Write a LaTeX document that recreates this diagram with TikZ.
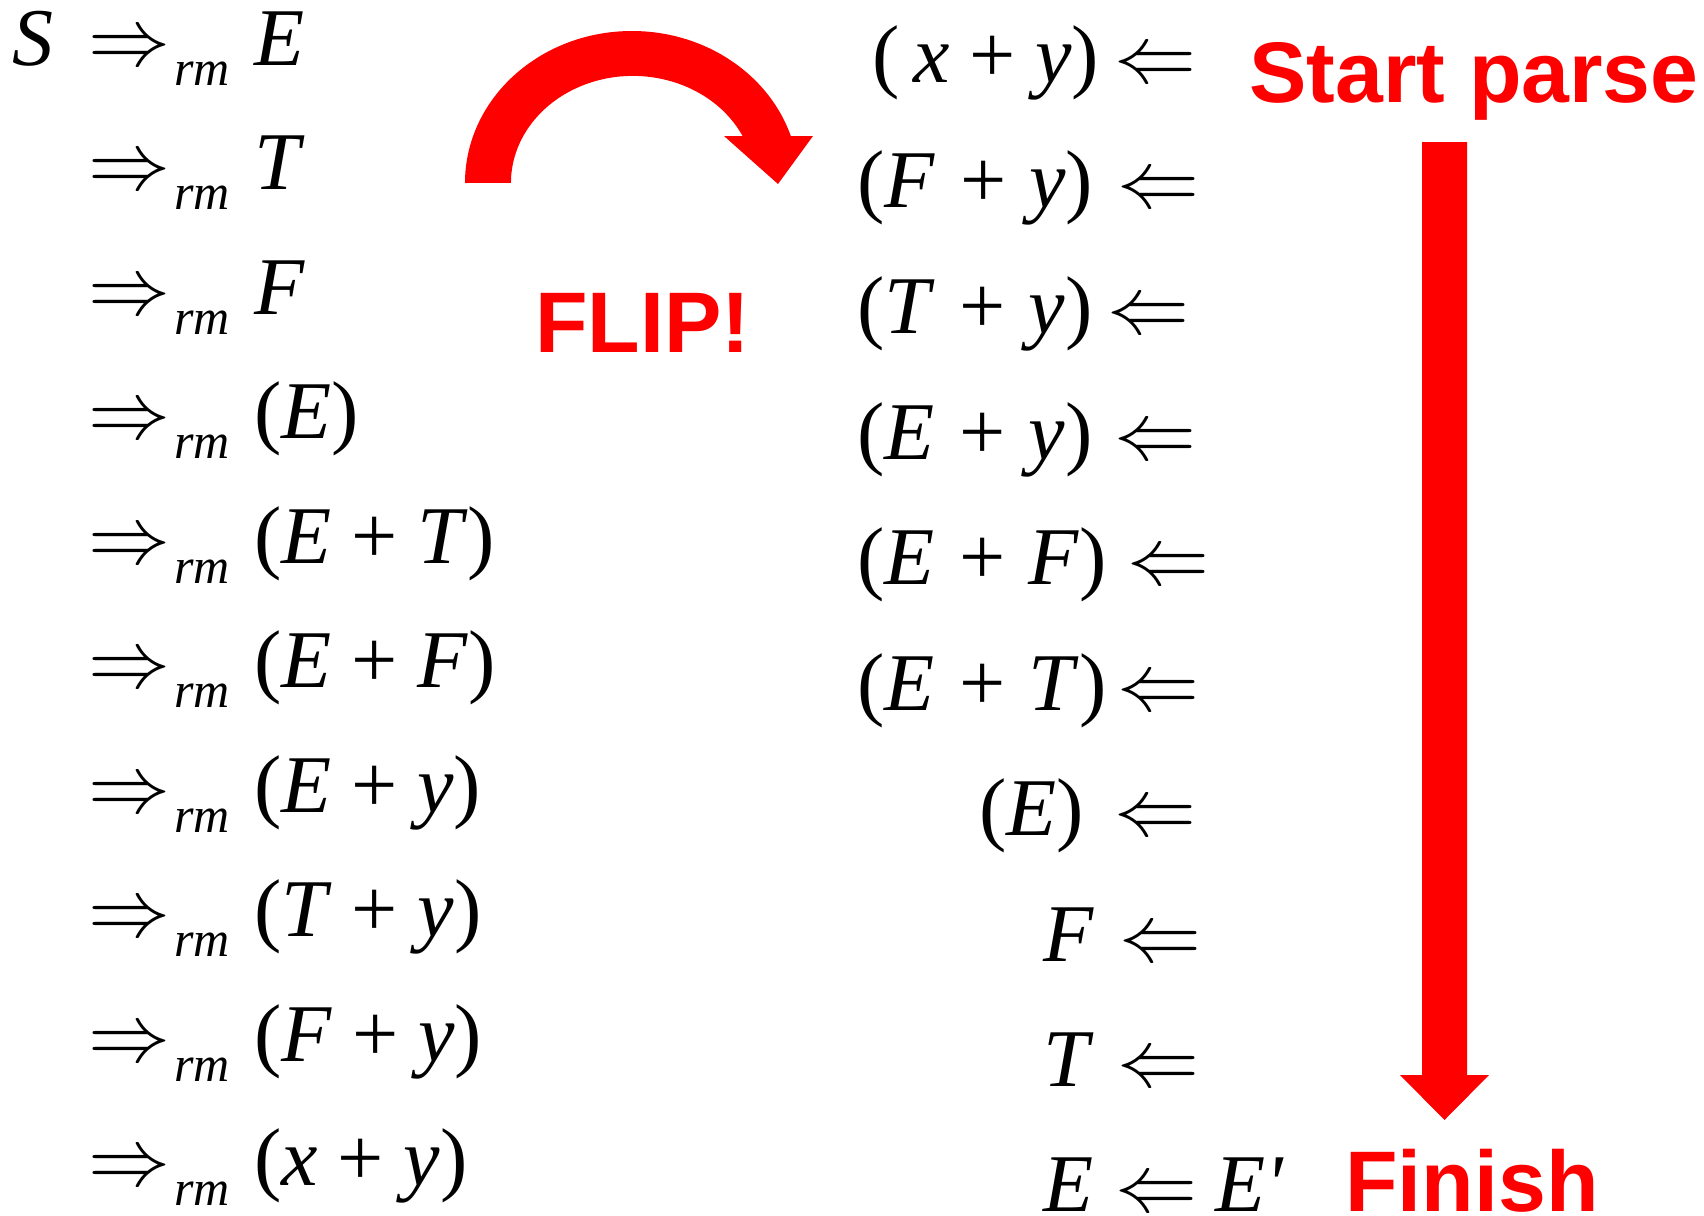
\documentclass[tikz,border=0pt]{standalone}
\usepackage{graphicx}
\usepackage{fontspec}
\setmainfont{Liberation Serif}
\newfontfamily\hv{Liberation Sans}
\newcommand\pp{\hspace{0.24em}+\hspace{0.24em}}
\newcommand\ppw{\hspace{0.3em}+\hspace{0.28em}}
\newcommand\rarr{\scalebox{4.1}{\fontsize{10}{12}\selectfont$\Rightarrow$}}
\newcommand\larr{\scalebox{4.1}{\fontsize{10}{12}\selectfont$\Leftarrow$}}
\begin{document}
\begin{tikzpicture}[x=0.5pt,y=-0.5pt,
  m/.style={inner sep=0pt, anchor=base west, font=\fontsize{41}{49}\selectfont},
  me/.style={inner sep=0pt, anchor=base east, font=\fontsize{41}{49}\selectfont},
  sub/.style={inner sep=0pt, anchor=base west, font=\fontsize{25}{30}\selectfont\itshape},
  lbl/.style={inner sep=0pt, anchor=base west, text=red, font=\fontsize{43}{52}\selectfont\hv\bfseries},
  redshape/.style={fill=red, draw=none}]
\useasboundingbox (0,0) rectangle (1704,1216);
\fill[white] (0,0) rectangle (1704,1216);
% left column
\node[m] (S) at (12,65) {\itshape S};
\foreach \i/\y/\e in {1/65/{\itshape E},
  2/189.5/{\itshape T},
  3/314/{\itshape F},
  4/438.5/{(\textit{E\/})},
  5/563/{(\textit{E}\pp\textit{T\/})},
  6/687.5/{(\textit{E}\pp\textit{F\/})},
  7/812/{(\textit{E}\pp\textit{y\/})},
  8/936.5/{(\textit{T}\pp\textit{y\/})},
  9/1061/{(\textit{F}\pp\textit{y\/})},
  10/1185.5/{(\textit{x}\pp\textit{y\/})}}{
  \node[m] (ra\i) at (88.5,\y) {\rarr};
  \node[sub] (rm\i) at (174,\y+20) {rm};
  \node[m] (le\i) at (254,\y) {\e};
}
% right column
\foreach \i/\y/\x/\ax/\e in {1/82/872/1192/{(\,\textit{x}\pp\textit{y\/})},
  2/207.5/857/1195/{(\textit{F}\ppw\textit{y\/})},
  3/333/857/1185/{(\textit{T}\ppw\textit{y\/})},
  4/459/857/1192/{(\textit{E}\ppw\textit{y\/})},
  5/584/857/1205/{(\textit{E}\ppw\textit{F\/})},
  6/710/857/1195/{(\textit{E}\ppw\textit{T\/})},
  7/835/979/1192/{(\textit{E\/})},
  8/961/1043/1197/{\itshape F},
  9/1086/1043/1195/{\itshape T},
  10/1211/1043/1193/{\itshape E}}{
  \node[m] (re\i) at (\x,\y) {\e};
  \node[me] (la\i) at (\ax+4.6,\y) {\larr};
}
\node[m] (Ep) at (1215,1211) {\itshape E\textquotesingle};
% labels
\node[lbl] (flip) at (535,352) {FLIP!};
\node[lbl] (start) at (1249,102) {Start parse};
\node[lbl] (finish) at (1345,1211) {Finish};
% curved arrow
\fill[redshape] (465,183) arc[start angle=180, end angle=342, x radius=167, y radius=152]
  -- (813,136) -- (778,184) -- (724,136) -- (742.6,136)
  arc[start angle=334, end angle=180, x radius=122, y radius=107] -- cycle;
% down arrow
\fill[redshape] (1422,142) -- (1467,142) -- (1467,1075) -- (1489,1075)
  -- (1444.5,1120) -- (1400,1075) -- (1422,1075) -- cycle;
\end{tikzpicture}
\end{document}
